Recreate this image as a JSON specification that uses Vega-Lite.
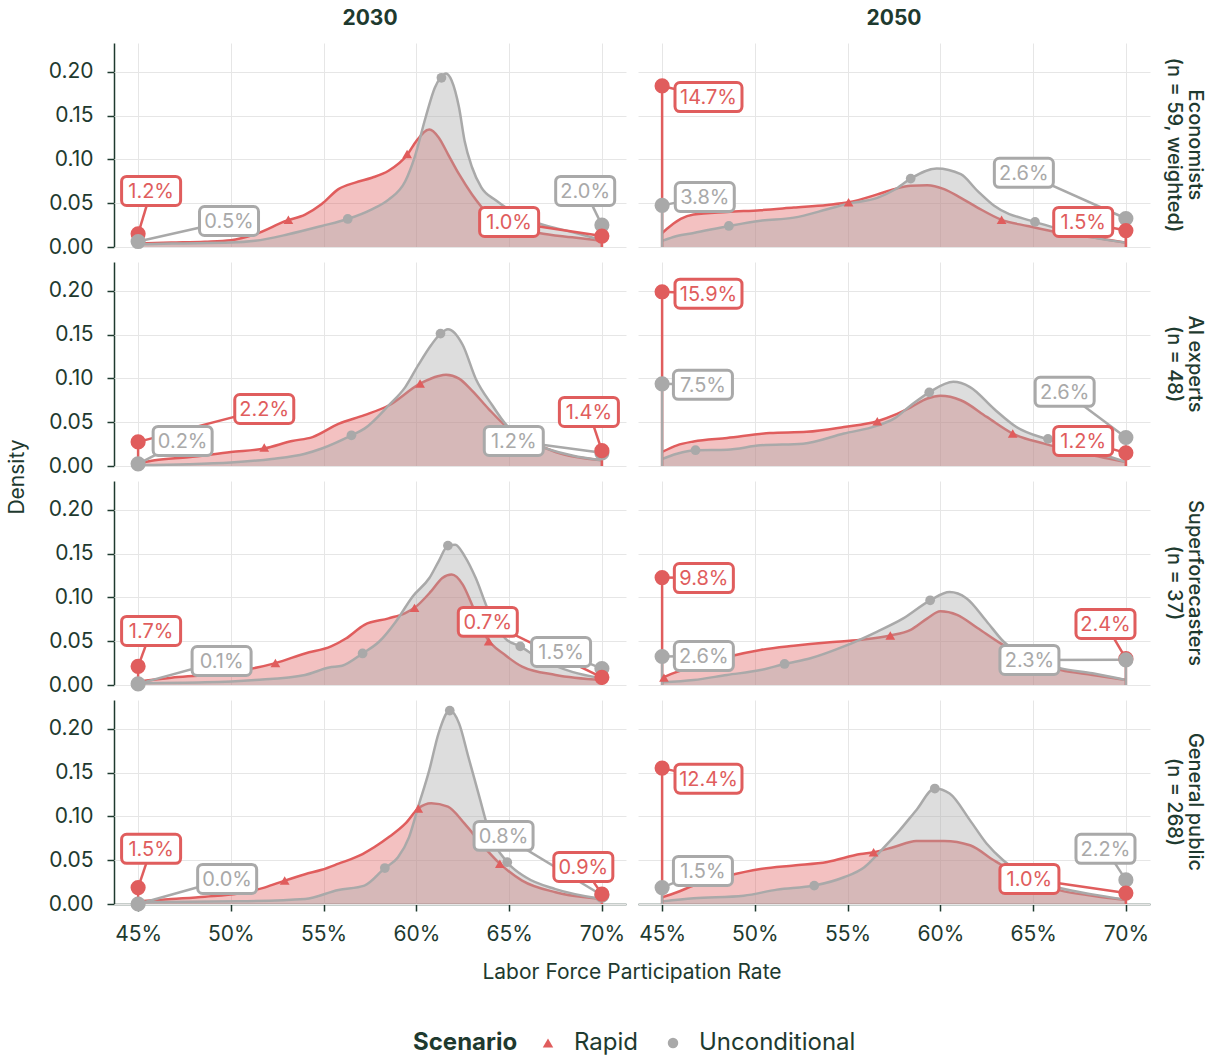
{
"$schema": "https://vega.github.io/schema/vega-lite/v6.json",
"padding": {"left": 6, "top": 8, "right": 5, "bottom": 5},
"bounds": "flush",
"data": {"values": [
{"grp":"Economists|(n = 59, weighted)","yr":"2030","s":"Rapid","k":"c","x":45,"d":0.004},
{"grp":"Economists|(n = 59, weighted)","yr":"2030","s":"Rapid","k":"c","x":46.8,"d":0.005},
{"grp":"Economists|(n = 59, weighted)","yr":"2030","s":"Rapid","k":"c","x":48.6,"d":0.006},
{"grp":"Economists|(n = 59, weighted)","yr":"2030","s":"Rapid","k":"c","x":50,"d":0.0076},
{"grp":"Economists|(n = 59, weighted)","yr":"2030","s":"Rapid","k":"c","x":51.3,"d":0.0145},
{"grp":"Economists|(n = 59, weighted)","yr":"2030","s":"Rapid","k":"c","x":53,"d":0.03},
{"grp":"Economists|(n = 59, weighted)","yr":"2030","s":"Rapid","k":"c","x":54,"d":0.037},
{"grp":"Economists|(n = 59, weighted)","yr":"2030","s":"Rapid","k":"c","x":54.9,"d":0.049},
{"grp":"Economists|(n = 59, weighted)","yr":"2030","s":"Rapid","k":"c","x":55.8,"d":0.066},
{"grp":"Economists|(n = 59, weighted)","yr":"2030","s":"Rapid","k":"c","x":56.7,"d":0.0735},
{"grp":"Economists|(n = 59, weighted)","yr":"2030","s":"Rapid","k":"c","x":57.6,"d":0.079},
{"grp":"Economists|(n = 59, weighted)","yr":"2030","s":"Rapid","k":"c","x":58.5,"d":0.087},
{"grp":"Economists|(n = 59, weighted)","yr":"2030","s":"Rapid","k":"c","x":59.5,"d":0.105},
{"grp":"Economists|(n = 59, weighted)","yr":"2030","s":"Rapid","k":"c","x":60,"d":0.121},
{"grp":"Economists|(n = 59, weighted)","yr":"2030","s":"Rapid","k":"c","x":60.7,"d":0.134},
{"grp":"Economists|(n = 59, weighted)","yr":"2030","s":"Rapid","k":"c","x":61.2,"d":0.125},
{"grp":"Economists|(n = 59, weighted)","yr":"2030","s":"Rapid","k":"c","x":61.7,"d":0.106},
{"grp":"Economists|(n = 59, weighted)","yr":"2030","s":"Rapid","k":"c","x":62.3,"d":0.083},
{"grp":"Economists|(n = 59, weighted)","yr":"2030","s":"Rapid","k":"c","x":63,"d":0.06},
{"grp":"Economists|(n = 59, weighted)","yr":"2030","s":"Rapid","k":"c","x":63.9,"d":0.037},
{"grp":"Economists|(n = 59, weighted)","yr":"2030","s":"Rapid","k":"c","x":64.8,"d":0.026},
{"grp":"Economists|(n = 59, weighted)","yr":"2030","s":"Rapid","k":"c","x":66.6,"d":0.016},
{"grp":"Economists|(n = 59, weighted)","yr":"2030","s":"Rapid","k":"c","x":68.4,"d":0.011},
{"grp":"Economists|(n = 59, weighted)","yr":"2030","s":"Rapid","k":"c","x":70,"d":0.007},
{"grp":"Economists|(n = 59, weighted)","yr":"2030","s":"Unconditional","k":"c","x":45,"d":0.003},
{"grp":"Economists|(n = 59, weighted)","yr":"2030","s":"Unconditional","k":"c","x":46.8,"d":0.004},
{"grp":"Economists|(n = 59, weighted)","yr":"2030","s":"Unconditional","k":"c","x":50,"d":0.005},
{"grp":"Economists|(n = 59, weighted)","yr":"2030","s":"Unconditional","k":"c","x":51.3,"d":0.007},
{"grp":"Economists|(n = 59, weighted)","yr":"2030","s":"Unconditional","k":"c","x":53.1,"d":0.0145},
{"grp":"Economists|(n = 59, weighted)","yr":"2030","s":"Unconditional","k":"c","x":54.9,"d":0.024},
{"grp":"Economists|(n = 59, weighted)","yr":"2030","s":"Unconditional","k":"c","x":56.3,"d":0.032},
{"grp":"Economists|(n = 59, weighted)","yr":"2030","s":"Unconditional","k":"c","x":57.6,"d":0.043},
{"grp":"Economists|(n = 59, weighted)","yr":"2030","s":"Unconditional","k":"c","x":58.5,"d":0.054},
{"grp":"Economists|(n = 59, weighted)","yr":"2030","s":"Unconditional","k":"c","x":59.4,"d":0.075},
{"grp":"Economists|(n = 59, weighted)","yr":"2030","s":"Unconditional","k":"c","x":59.9,"d":0.102},
{"grp":"Economists|(n = 59, weighted)","yr":"2030","s":"Unconditional","k":"c","x":60.5,"d":0.148},
{"grp":"Economists|(n = 59, weighted)","yr":"2030","s":"Unconditional","k":"c","x":61,"d":0.182},
{"grp":"Economists|(n = 59, weighted)","yr":"2030","s":"Unconditional","k":"c","x":61.3,"d":0.193},
{"grp":"Economists|(n = 59, weighted)","yr":"2030","s":"Unconditional","k":"c","x":61.6,"d":0.198},
{"grp":"Economists|(n = 59, weighted)","yr":"2030","s":"Unconditional","k":"c","x":61.9,"d":0.19},
{"grp":"Economists|(n = 59, weighted)","yr":"2030","s":"Unconditional","k":"c","x":62.3,"d":0.159},
{"grp":"Economists|(n = 59, weighted)","yr":"2030","s":"Unconditional","k":"c","x":62.6,"d":0.121},
{"grp":"Economists|(n = 59, weighted)","yr":"2030","s":"Unconditional","k":"c","x":63,"d":0.091},
{"grp":"Economists|(n = 59, weighted)","yr":"2030","s":"Unconditional","k":"c","x":63.5,"d":0.068},
{"grp":"Economists|(n = 59, weighted)","yr":"2030","s":"Unconditional","k":"c","x":64.3,"d":0.053},
{"grp":"Economists|(n = 59, weighted)","yr":"2030","s":"Unconditional","k":"c","x":65.2,"d":0.04},
{"grp":"Economists|(n = 59, weighted)","yr":"2030","s":"Unconditional","k":"c","x":66.6,"d":0.027},
{"grp":"Economists|(n = 59, weighted)","yr":"2030","s":"Unconditional","k":"c","x":68.4,"d":0.017},
{"grp":"Economists|(n = 59, weighted)","yr":"2030","s":"Unconditional","k":"c","x":70,"d":0.008},
{"grp":"Economists|(n = 59, weighted)","yr":"2030","s":"Rapid","k":"m","x":53.1,"d":0.031},
{"grp":"Economists|(n = 59, weighted)","yr":"2030","s":"Rapid","k":"m","x":59.5,"d":0.106},
{"grp":"Economists|(n = 59, weighted)","yr":"2030","s":"Unconditional","k":"m","x":56.3,"d":0.032},
{"grp":"Economists|(n = 59, weighted)","yr":"2030","s":"Unconditional","k":"m","x":61.35,"d":0.193},
{"grp":"Economists|(n = 59, weighted)","yr":"2030","s":"Rapid","k":"p","x":45,"d":0.015,"lx":45.7,"ly":0.064,"lab":"1.2%"},
{"grp":"Economists|(n = 59, weighted)","yr":"2030","s":"Unconditional","k":"p","x":45,"d":0.00625,"lx":49.9,"ly":0.0297,"lab":"0.5%"},
{"grp":"Economists|(n = 59, weighted)","yr":"2030","s":"Unconditional","k":"p","x":70,"d":0.025,"lx":69.1,"ly":0.064,"lab":"2.0%"},
{"grp":"Economists|(n = 59, weighted)","yr":"2030","s":"Rapid","k":"p","x":70,"d":0.0125,"lx":65,"ly":0.0286,"lab":"1.0%"},

{"grp":"Economists|(n = 59, weighted)","yr":"2050","s":"Rapid","k":"c","x":45,"d":0.016},
{"grp":"Economists|(n = 59, weighted)","yr":"2050","s":"Rapid","k":"c","x":45.45,"d":0.024},
{"grp":"Economists|(n = 59, weighted)","yr":"2050","s":"Rapid","k":"c","x":46,"d":0.032},
{"grp":"Economists|(n = 59, weighted)","yr":"2050","s":"Rapid","k":"c","x":46.7,"d":0.037},
{"grp":"Economists|(n = 59, weighted)","yr":"2050","s":"Rapid","k":"c","x":48.5,"d":0.04},
{"grp":"Economists|(n = 59, weighted)","yr":"2050","s":"Rapid","k":"c","x":50.3,"d":0.042},
{"grp":"Economists|(n = 59, weighted)","yr":"2050","s":"Rapid","k":"c","x":52.1,"d":0.045},
{"grp":"Economists|(n = 59, weighted)","yr":"2050","s":"Rapid","k":"c","x":53.9,"d":0.048},
{"grp":"Economists|(n = 59, weighted)","yr":"2050","s":"Rapid","k":"c","x":55.05,"d":0.051},
{"grp":"Economists|(n = 59, weighted)","yr":"2050","s":"Rapid","k":"c","x":56.6,"d":0.06},
{"grp":"Economists|(n = 59, weighted)","yr":"2050","s":"Rapid","k":"c","x":57.5,"d":0.066},
{"grp":"Economists|(n = 59, weighted)","yr":"2050","s":"Rapid","k":"c","x":58.4,"d":0.07},
{"grp":"Economists|(n = 59, weighted)","yr":"2050","s":"Rapid","k":"c","x":59.3,"d":0.0705},
{"grp":"Economists|(n = 59, weighted)","yr":"2050","s":"Rapid","k":"c","x":60.2,"d":0.066},
{"grp":"Economists|(n = 59, weighted)","yr":"2050","s":"Rapid","k":"c","x":61.1,"d":0.056},
{"grp":"Economists|(n = 59, weighted)","yr":"2050","s":"Rapid","k":"c","x":62,"d":0.045},
{"grp":"Economists|(n = 59, weighted)","yr":"2050","s":"Rapid","k":"c","x":63.3,"d":0.031},
{"grp":"Economists|(n = 59, weighted)","yr":"2050","s":"Rapid","k":"c","x":64.7,"d":0.024},
{"grp":"Economists|(n = 59, weighted)","yr":"2050","s":"Rapid","k":"c","x":66.5,"d":0.016},
{"grp":"Economists|(n = 59, weighted)","yr":"2050","s":"Rapid","k":"c","x":68.2,"d":0.011},
{"grp":"Economists|(n = 59, weighted)","yr":"2050","s":"Rapid","k":"c","x":70,"d":0.005},
{"grp":"Economists|(n = 59, weighted)","yr":"2050","s":"Unconditional","k":"c","x":45,"d":0.007},
{"grp":"Economists|(n = 59, weighted)","yr":"2050","s":"Unconditional","k":"c","x":45.8,"d":0.0126},
{"grp":"Economists|(n = 59, weighted)","yr":"2050","s":"Unconditional","k":"c","x":46.7,"d":0.016},
{"grp":"Economists|(n = 59, weighted)","yr":"2050","s":"Unconditional","k":"c","x":48.6,"d":0.024},
{"grp":"Economists|(n = 59, weighted)","yr":"2050","s":"Unconditional","k":"c","x":50.3,"d":0.03},
{"grp":"Economists|(n = 59, weighted)","yr":"2050","s":"Unconditional","k":"c","x":52.1,"d":0.0335},
{"grp":"Economists|(n = 59, weighted)","yr":"2050","s":"Unconditional","k":"c","x":53.9,"d":0.043},
{"grp":"Economists|(n = 59, weighted)","yr":"2050","s":"Unconditional","k":"c","x":55.05,"d":0.0495},
{"grp":"Economists|(n = 59, weighted)","yr":"2050","s":"Unconditional","k":"c","x":56.6,"d":0.056},
{"grp":"Economists|(n = 59, weighted)","yr":"2050","s":"Unconditional","k":"c","x":57.5,"d":0.065},
{"grp":"Economists|(n = 59, weighted)","yr":"2050","s":"Unconditional","k":"c","x":58.4,"d":0.078},
{"grp":"Economists|(n = 59, weighted)","yr":"2050","s":"Unconditional","k":"c","x":59.8,"d":0.0895},
{"grp":"Economists|(n = 59, weighted)","yr":"2050","s":"Unconditional","k":"c","x":61.1,"d":0.083},
{"grp":"Economists|(n = 59, weighted)","yr":"2050","s":"Unconditional","k":"c","x":62,"d":0.064},
{"grp":"Economists|(n = 59, weighted)","yr":"2050","s":"Unconditional","k":"c","x":62.9,"d":0.047},
{"grp":"Economists|(n = 59, weighted)","yr":"2050","s":"Unconditional","k":"c","x":65.1,"d":0.0286},
{"grp":"Economists|(n = 59, weighted)","yr":"2050","s":"Unconditional","k":"c","x":66.5,"d":0.02},
{"grp":"Economists|(n = 59, weighted)","yr":"2050","s":"Unconditional","k":"c","x":68.2,"d":0.011},
{"grp":"Economists|(n = 59, weighted)","yr":"2050","s":"Unconditional","k":"c","x":70,"d":0.005},
{"grp":"Economists|(n = 59, weighted)","yr":"2050","s":"Rapid","k":"m","x":55.05,"d":0.051},
{"grp":"Economists|(n = 59, weighted)","yr":"2050","s":"Rapid","k":"m","x":63.3,"d":0.031},
{"grp":"Economists|(n = 59, weighted)","yr":"2050","s":"Unconditional","k":"m","x":48.6,"d":0.024},
{"grp":"Economists|(n = 59, weighted)","yr":"2050","s":"Unconditional","k":"m","x":58.4,"d":0.078},
{"grp":"Economists|(n = 59, weighted)","yr":"2050","s":"Unconditional","k":"m","x":65.1,"d":0.0286},
{"grp":"Economists|(n = 59, weighted)","yr":"2050","s":"Rapid","k":"p","x":45,"d":0.18375,"lx":47.5,"ly":0.171,"lab":"14.7%"},
{"grp":"Economists|(n = 59, weighted)","yr":"2050","s":"Unconditional","k":"p","x":45,"d":0.0475,"lx":47.3,"ly":0.057,"lab":"3.8%"},
{"grp":"Economists|(n = 59, weighted)","yr":"2050","s":"Unconditional","k":"p","x":70,"d":0.0325,"lx":64.5,"ly":0.0846,"lab":"2.6%"},
{"grp":"Economists|(n = 59, weighted)","yr":"2050","s":"Rapid","k":"p","x":70,"d":0.01875,"lx":67.7,"ly":0.0286,"lab":"1.5%"},

{"grp":"AI experts|(n = 48)","yr":"2030","s":"Rapid","k":"c","x":45,"d":0.003},
{"grp":"AI experts|(n = 48)","yr":"2030","s":"Rapid","k":"c","x":45.9,"d":0.0065},
{"grp":"AI experts|(n = 48)","yr":"2030","s":"Rapid","k":"c","x":47.7,"d":0.01},
{"grp":"AI experts|(n = 48)","yr":"2030","s":"Rapid","k":"c","x":50,"d":0.016},
{"grp":"AI experts|(n = 48)","yr":"2030","s":"Rapid","k":"c","x":51.8,"d":0.02},
{"grp":"AI experts|(n = 48)","yr":"2030","s":"Rapid","k":"c","x":53.3,"d":0.0285},
{"grp":"AI experts|(n = 48)","yr":"2030","s":"Rapid","k":"c","x":54.4,"d":0.033},
{"grp":"AI experts|(n = 48)","yr":"2030","s":"Rapid","k":"c","x":55.8,"d":0.048},
{"grp":"AI experts|(n = 48)","yr":"2030","s":"Rapid","k":"c","x":57.2,"d":0.058},
{"grp":"AI experts|(n = 48)","yr":"2030","s":"Rapid","k":"c","x":58.5,"d":0.069},
{"grp":"AI experts|(n = 48)","yr":"2030","s":"Rapid","k":"c","x":60.2,"d":0.094},
{"grp":"AI experts|(n = 48)","yr":"2030","s":"Rapid","k":"c","x":61.2,"d":0.1027},
{"grp":"AI experts|(n = 48)","yr":"2030","s":"Rapid","k":"c","x":61.6,"d":0.104},
{"grp":"AI experts|(n = 48)","yr":"2030","s":"Rapid","k":"c","x":62.3,"d":0.0996},
{"grp":"AI experts|(n = 48)","yr":"2030","s":"Rapid","k":"c","x":63,"d":0.086},
{"grp":"AI experts|(n = 48)","yr":"2030","s":"Rapid","k":"c","x":63.9,"d":0.065},
{"grp":"AI experts|(n = 48)","yr":"2030","s":"Rapid","k":"c","x":64.8,"d":0.046},
{"grp":"AI experts|(n = 48)","yr":"2030","s":"Rapid","k":"c","x":65.9,"d":0.031},
{"grp":"AI experts|(n = 48)","yr":"2030","s":"Rapid","k":"c","x":67.5,"d":0.016},
{"grp":"AI experts|(n = 48)","yr":"2030","s":"Rapid","k":"c","x":70,"d":0.0065},
{"grp":"AI experts|(n = 48)","yr":"2030","s":"Unconditional","k":"c","x":45,"d":0.001},
{"grp":"AI experts|(n = 48)","yr":"2030","s":"Unconditional","k":"c","x":47.7,"d":0.002},
{"grp":"AI experts|(n = 48)","yr":"2030","s":"Unconditional","k":"c","x":50,"d":0.004},
{"grp":"AI experts|(n = 48)","yr":"2030","s":"Unconditional","k":"c","x":52.2,"d":0.008},
{"grp":"AI experts|(n = 48)","yr":"2030","s":"Unconditional","k":"c","x":54,"d":0.014},
{"grp":"AI experts|(n = 48)","yr":"2030","s":"Unconditional","k":"c","x":54.9,"d":0.02},
{"grp":"AI experts|(n = 48)","yr":"2030","s":"Unconditional","k":"c","x":56.5,"d":0.035},
{"grp":"AI experts|(n = 48)","yr":"2030","s":"Unconditional","k":"c","x":57.2,"d":0.0426},
{"grp":"AI experts|(n = 48)","yr":"2030","s":"Unconditional","k":"c","x":58.5,"d":0.069},
{"grp":"AI experts|(n = 48)","yr":"2030","s":"Unconditional","k":"c","x":59.4,"d":0.09},
{"grp":"AI experts|(n = 48)","yr":"2030","s":"Unconditional","k":"c","x":60.1,"d":0.115},
{"grp":"AI experts|(n = 48)","yr":"2030","s":"Unconditional","k":"c","x":60.8,"d":0.138},
{"grp":"AI experts|(n = 48)","yr":"2030","s":"Unconditional","k":"c","x":61.3,"d":0.151},
{"grp":"AI experts|(n = 48)","yr":"2030","s":"Unconditional","k":"c","x":61.7,"d":0.156},
{"grp":"AI experts|(n = 48)","yr":"2030","s":"Unconditional","k":"c","x":62.5,"d":0.138},
{"grp":"AI experts|(n = 48)","yr":"2030","s":"Unconditional","k":"c","x":63.2,"d":0.0996},
{"grp":"AI experts|(n = 48)","yr":"2030","s":"Unconditional","k":"c","x":64.1,"d":0.069},
{"grp":"AI experts|(n = 48)","yr":"2030","s":"Unconditional","k":"c","x":64.8,"d":0.048},
{"grp":"AI experts|(n = 48)","yr":"2030","s":"Unconditional","k":"c","x":66.6,"d":0.0236},
{"grp":"AI experts|(n = 48)","yr":"2030","s":"Unconditional","k":"c","x":68.4,"d":0.012},
{"grp":"AI experts|(n = 48)","yr":"2030","s":"Unconditional","k":"c","x":70,"d":0.0065},
{"grp":"AI experts|(n = 48)","yr":"2030","s":"Rapid","k":"m","x":51.8,"d":0.021},
{"grp":"AI experts|(n = 48)","yr":"2030","s":"Rapid","k":"m","x":60.2,"d":0.094},
{"grp":"AI experts|(n = 48)","yr":"2030","s":"Unconditional","k":"m","x":56.5,"d":0.035},
{"grp":"AI experts|(n = 48)","yr":"2030","s":"Unconditional","k":"m","x":61.3,"d":0.151},
{"grp":"AI experts|(n = 48)","yr":"2030","s":"Rapid","k":"p","x":45,"d":0.0275,"lx":51.8,"ly":0.065,"lab":"2.2%"},
{"grp":"AI experts|(n = 48)","yr":"2030","s":"Unconditional","k":"p","x":45,"d":0.0025,"lx":47.4,"ly":0.0286,"lab":"0.2%"},
{"grp":"AI experts|(n = 48)","yr":"2030","s":"Unconditional","k":"p","x":70,"d":0.015,"lx":65.25,"ly":0.0286,"lab":"1.2%"},
{"grp":"AI experts|(n = 48)","yr":"2030","s":"Rapid","k":"p","x":70,"d":0.0175,"lx":69.3,"ly":0.0617,"lab":"1.4%"},

{"grp":"AI experts|(n = 48)","yr":"2050","s":"Rapid","k":"c","x":45,"d":0.016},
{"grp":"AI experts|(n = 48)","yr":"2050","s":"Rapid","k":"c","x":45.8,"d":0.0236},
{"grp":"AI experts|(n = 48)","yr":"2050","s":"Rapid","k":"c","x":46.7,"d":0.028},
{"grp":"AI experts|(n = 48)","yr":"2050","s":"Rapid","k":"c","x":48.5,"d":0.032},
{"grp":"AI experts|(n = 48)","yr":"2050","s":"Rapid","k":"c","x":50.8,"d":0.0376},
{"grp":"AI experts|(n = 48)","yr":"2050","s":"Rapid","k":"c","x":52.8,"d":0.039},
{"grp":"AI experts|(n = 48)","yr":"2050","s":"Rapid","k":"c","x":54.8,"d":0.0445},
{"grp":"AI experts|(n = 48)","yr":"2050","s":"Rapid","k":"c","x":56.6,"d":0.051},
{"grp":"AI experts|(n = 48)","yr":"2050","s":"Rapid","k":"c","x":57.5,"d":0.058},
{"grp":"AI experts|(n = 48)","yr":"2050","s":"Rapid","k":"c","x":58.4,"d":0.067},
{"grp":"AI experts|(n = 48)","yr":"2050","s":"Rapid","k":"c","x":59.3,"d":0.077},
{"grp":"AI experts|(n = 48)","yr":"2050","s":"Rapid","k":"c","x":60,"d":0.08},
{"grp":"AI experts|(n = 48)","yr":"2050","s":"Rapid","k":"c","x":61.1,"d":0.075},
{"grp":"AI experts|(n = 48)","yr":"2050","s":"Rapid","k":"c","x":62.5,"d":0.056},
{"grp":"AI experts|(n = 48)","yr":"2050","s":"Rapid","k":"c","x":63.9,"d":0.037},
{"grp":"AI experts|(n = 48)","yr":"2050","s":"Rapid","k":"c","x":65.6,"d":0.0255},
{"grp":"AI experts|(n = 48)","yr":"2050","s":"Rapid","k":"c","x":67.4,"d":0.016},
{"grp":"AI experts|(n = 48)","yr":"2050","s":"Rapid","k":"c","x":70,"d":0.0046},
{"grp":"AI experts|(n = 48)","yr":"2050","s":"Unconditional","k":"c","x":45,"d":0.008},
{"grp":"AI experts|(n = 48)","yr":"2050","s":"Unconditional","k":"c","x":45.8,"d":0.014},
{"grp":"AI experts|(n = 48)","yr":"2050","s":"Unconditional","k":"c","x":46.8,"d":0.018},
{"grp":"AI experts|(n = 48)","yr":"2050","s":"Unconditional","k":"c","x":48.5,"d":0.0186},
{"grp":"AI experts|(n = 48)","yr":"2050","s":"Unconditional","k":"c","x":50.3,"d":0.0236},
{"grp":"AI experts|(n = 48)","yr":"2050","s":"Unconditional","k":"c","x":52.6,"d":0.0255},
{"grp":"AI experts|(n = 48)","yr":"2050","s":"Unconditional","k":"c","x":54.8,"d":0.037},
{"grp":"AI experts|(n = 48)","yr":"2050","s":"Unconditional","k":"c","x":56.6,"d":0.046},
{"grp":"AI experts|(n = 48)","yr":"2050","s":"Unconditional","k":"c","x":57.5,"d":0.054},
{"grp":"AI experts|(n = 48)","yr":"2050","s":"Unconditional","k":"c","x":58.4,"d":0.069},
{"grp":"AI experts|(n = 48)","yr":"2050","s":"Unconditional","k":"c","x":59.4,"d":0.084},
{"grp":"AI experts|(n = 48)","yr":"2050","s":"Unconditional","k":"c","x":60.7,"d":0.096},
{"grp":"AI experts|(n = 48)","yr":"2050","s":"Unconditional","k":"c","x":61.6,"d":0.09},
{"grp":"AI experts|(n = 48)","yr":"2050","s":"Unconditional","k":"c","x":62.9,"d":0.065},
{"grp":"AI experts|(n = 48)","yr":"2050","s":"Unconditional","k":"c","x":64.1,"d":0.0445},
{"grp":"AI experts|(n = 48)","yr":"2050","s":"Unconditional","k":"c","x":65.7,"d":0.031},
{"grp":"AI experts|(n = 48)","yr":"2050","s":"Unconditional","k":"c","x":67.4,"d":0.0217},
{"grp":"AI experts|(n = 48)","yr":"2050","s":"Unconditional","k":"c","x":70,"d":0.0046},
{"grp":"AI experts|(n = 48)","yr":"2050","s":"Rapid","k":"m","x":56.6,"d":0.051},
{"grp":"AI experts|(n = 48)","yr":"2050","s":"Rapid","k":"m","x":63.9,"d":0.037},
{"grp":"AI experts|(n = 48)","yr":"2050","s":"Unconditional","k":"m","x":46.8,"d":0.018},
{"grp":"AI experts|(n = 48)","yr":"2050","s":"Unconditional","k":"m","x":59.4,"d":0.084},
{"grp":"AI experts|(n = 48)","yr":"2050","s":"Unconditional","k":"m","x":65.8,"d":0.031},
{"grp":"AI experts|(n = 48)","yr":"2050","s":"Rapid","k":"p","x":45,"d":0.19875,"lx":47.5,"ly":0.1966,"lab":"15.9%"},
{"grp":"AI experts|(n = 48)","yr":"2050","s":"Unconditional","k":"p","x":45,"d":0.09375,"lx":47.2,"ly":0.0926,"lab":"7.5%"},
{"grp":"AI experts|(n = 48)","yr":"2050","s":"Unconditional","k":"p","x":70,"d":0.0325,"lx":66.7,"ly":0.0846,"lab":"2.6%"},
{"grp":"AI experts|(n = 48)","yr":"2050","s":"Rapid","k":"p","x":70,"d":0.015,"lx":67.7,"ly":0.0286,"lab":"1.2%"},

{"grp":"Superforecasters|(n = 37)","yr":"2030","s":"Rapid","k":"c","x":45,"d":0.004},
{"grp":"Superforecasters|(n = 37)","yr":"2030","s":"Rapid","k":"c","x":46.8,"d":0.0084},
{"grp":"Superforecasters|(n = 37)","yr":"2030","s":"Rapid","k":"c","x":48.6,"d":0.0115},
{"grp":"Superforecasters|(n = 37)","yr":"2030","s":"Rapid","k":"c","x":50.4,"d":0.016},
{"grp":"Superforecasters|(n = 37)","yr":"2030","s":"Rapid","k":"c","x":52.4,"d":0.025},
{"grp":"Superforecasters|(n = 37)","yr":"2030","s":"Rapid","k":"c","x":54,"d":0.036},
{"grp":"Superforecasters|(n = 37)","yr":"2030","s":"Rapid","k":"c","x":55.4,"d":0.044},
{"grp":"Superforecasters|(n = 37)","yr":"2030","s":"Rapid","k":"c","x":56.2,"d":0.053},
{"grp":"Superforecasters|(n = 37)","yr":"2030","s":"Rapid","k":"c","x":57.2,"d":0.0687},
{"grp":"Superforecasters|(n = 37)","yr":"2030","s":"Rapid","k":"c","x":58.5,"d":0.076},
{"grp":"Superforecasters|(n = 37)","yr":"2030","s":"Rapid","k":"c","x":59.4,"d":0.082},
{"grp":"Superforecasters|(n = 37)","yr":"2030","s":"Rapid","k":"c","x":59.9,"d":0.088},
{"grp":"Superforecasters|(n = 37)","yr":"2030","s":"Rapid","k":"c","x":60.8,"d":0.107},
{"grp":"Superforecasters|(n = 37)","yr":"2030","s":"Rapid","k":"c","x":61.4,"d":0.122},
{"grp":"Superforecasters|(n = 37)","yr":"2030","s":"Rapid","k":"c","x":61.9,"d":0.126},
{"grp":"Superforecasters|(n = 37)","yr":"2030","s":"Rapid","k":"c","x":62.5,"d":0.1145},
{"grp":"Superforecasters|(n = 37)","yr":"2030","s":"Rapid","k":"c","x":63,"d":0.0916},
{"grp":"Superforecasters|(n = 37)","yr":"2030","s":"Rapid","k":"c","x":63.7,"d":0.057},
{"grp":"Superforecasters|(n = 37)","yr":"2030","s":"Rapid","k":"c","x":64.8,"d":0.034},
{"grp":"Superforecasters|(n = 37)","yr":"2030","s":"Rapid","k":"c","x":65.7,"d":0.021},
{"grp":"Superforecasters|(n = 37)","yr":"2030","s":"Rapid","k":"c","x":67.5,"d":0.0115},
{"grp":"Superforecasters|(n = 37)","yr":"2030","s":"Rapid","k":"c","x":70,"d":0.0057},
{"grp":"Superforecasters|(n = 37)","yr":"2030","s":"Unconditional","k":"c","x":45,"d":0.002},
{"grp":"Superforecasters|(n = 37)","yr":"2030","s":"Unconditional","k":"c","x":48.6,"d":0.003},
{"grp":"Superforecasters|(n = 37)","yr":"2030","s":"Unconditional","k":"c","x":51.3,"d":0.0057},
{"grp":"Superforecasters|(n = 37)","yr":"2030","s":"Unconditional","k":"c","x":54,"d":0.0115},
{"grp":"Superforecasters|(n = 37)","yr":"2030","s":"Unconditional","k":"c","x":55.3,"d":0.02},
{"grp":"Superforecasters|(n = 37)","yr":"2030","s":"Unconditional","k":"c","x":56,"d":0.022},
{"grp":"Superforecasters|(n = 37)","yr":"2030","s":"Unconditional","k":"c","x":57.1,"d":0.036},
{"grp":"Superforecasters|(n = 37)","yr":"2030","s":"Unconditional","k":"c","x":58,"d":0.0496},
{"grp":"Superforecasters|(n = 37)","yr":"2030","s":"Unconditional","k":"c","x":58.9,"d":0.0725},
{"grp":"Superforecasters|(n = 37)","yr":"2030","s":"Unconditional","k":"c","x":59.8,"d":0.101},
{"grp":"Superforecasters|(n = 37)","yr":"2030","s":"Unconditional","k":"c","x":60.7,"d":0.122},
{"grp":"Superforecasters|(n = 37)","yr":"2030","s":"Unconditional","k":"c","x":61.2,"d":0.141},
{"grp":"Superforecasters|(n = 37)","yr":"2030","s":"Unconditional","k":"c","x":61.7,"d":0.159},
{"grp":"Superforecasters|(n = 37)","yr":"2030","s":"Unconditional","k":"c","x":62.1,"d":0.16},
{"grp":"Superforecasters|(n = 37)","yr":"2030","s":"Unconditional","k":"c","x":62.6,"d":0.147},
{"grp":"Superforecasters|(n = 37)","yr":"2030","s":"Unconditional","k":"c","x":63.2,"d":0.122},
{"grp":"Superforecasters|(n = 37)","yr":"2030","s":"Unconditional","k":"c","x":63.9,"d":0.084},
{"grp":"Superforecasters|(n = 37)","yr":"2030","s":"Unconditional","k":"c","x":64.8,"d":0.053},
{"grp":"Superforecasters|(n = 37)","yr":"2030","s":"Unconditional","k":"c","x":65.6,"d":0.044},
{"grp":"Superforecasters|(n = 37)","yr":"2030","s":"Unconditional","k":"c","x":66.6,"d":0.0305},
{"grp":"Superforecasters|(n = 37)","yr":"2030","s":"Unconditional","k":"c","x":68.4,"d":0.015},
{"grp":"Superforecasters|(n = 37)","yr":"2030","s":"Unconditional","k":"c","x":70,"d":0.0076},
{"grp":"Superforecasters|(n = 37)","yr":"2030","s":"Rapid","k":"m","x":52.4,"d":0.025},
{"grp":"Superforecasters|(n = 37)","yr":"2030","s":"Rapid","k":"m","x":59.9,"d":0.088},
{"grp":"Superforecasters|(n = 37)","yr":"2030","s":"Rapid","k":"m","x":63.9,"d":0.05},
{"grp":"Superforecasters|(n = 37)","yr":"2030","s":"Unconditional","k":"m","x":57.1,"d":0.036},
{"grp":"Superforecasters|(n = 37)","yr":"2030","s":"Unconditional","k":"m","x":61.7,"d":0.159},
{"grp":"Superforecasters|(n = 37)","yr":"2030","s":"Unconditional","k":"m","x":65.6,"d":0.044},
{"grp":"Superforecasters|(n = 37)","yr":"2030","s":"Rapid","k":"p","x":45,"d":0.02125,"lx":45.7,"ly":0.0617,"lab":"1.7%"},
{"grp":"Superforecasters|(n = 37)","yr":"2030","s":"Unconditional","k":"p","x":45,"d":0.00125,"lx":49.5,"ly":0.0274,"lab":"0.1%"},
{"grp":"Superforecasters|(n = 37)","yr":"2030","s":"Unconditional","k":"p","x":70,"d":0.01875,"lx":67.8,"ly":0.0377,"lab":"1.5%"},
{"grp":"Superforecasters|(n = 37)","yr":"2030","s":"Rapid","k":"p","x":70,"d":0.00875,"lx":63.85,"ly":0.072,"lab":"0.7%"},

{"grp":"Superforecasters|(n = 37)","yr":"2050","s":"Rapid","k":"c","x":45,"d":0.0084},
{"grp":"Superforecasters|(n = 37)","yr":"2050","s":"Rapid","k":"c","x":45.8,"d":0.015},
{"grp":"Superforecasters|(n = 37)","yr":"2050","s":"Rapid","k":"c","x":46.7,"d":0.021},
{"grp":"Superforecasters|(n = 37)","yr":"2050","s":"Rapid","k":"c","x":48.5,"d":0.032},
{"grp":"Superforecasters|(n = 37)","yr":"2050","s":"Rapid","k":"c","x":50.3,"d":0.04},
{"grp":"Superforecasters|(n = 37)","yr":"2050","s":"Rapid","k":"c","x":52.1,"d":0.0447},
{"grp":"Superforecasters|(n = 37)","yr":"2050","s":"Rapid","k":"c","x":53.9,"d":0.0485},
{"grp":"Superforecasters|(n = 37)","yr":"2050","s":"Rapid","k":"c","x":55.7,"d":0.0515},
{"grp":"Superforecasters|(n = 37)","yr":"2050","s":"Rapid","k":"c","x":57.3,"d":0.0565},
{"grp":"Superforecasters|(n = 37)","yr":"2050","s":"Rapid","k":"c","x":58.4,"d":0.063},
{"grp":"Superforecasters|(n = 37)","yr":"2050","s":"Rapid","k":"c","x":59.3,"d":0.076},
{"grp":"Superforecasters|(n = 37)","yr":"2050","s":"Rapid","k":"c","x":60,"d":0.084},
{"grp":"Superforecasters|(n = 37)","yr":"2050","s":"Rapid","k":"c","x":60.9,"d":0.08},
{"grp":"Superforecasters|(n = 37)","yr":"2050","s":"Rapid","k":"c","x":62,"d":0.065},
{"grp":"Superforecasters|(n = 37)","yr":"2050","s":"Rapid","k":"c","x":63.2,"d":0.048},
{"grp":"Superforecasters|(n = 37)","yr":"2050","s":"Rapid","k":"c","x":64.7,"d":0.0305},
{"grp":"Superforecasters|(n = 37)","yr":"2050","s":"Rapid","k":"c","x":66.5,"d":0.017},
{"grp":"Superforecasters|(n = 37)","yr":"2050","s":"Rapid","k":"c","x":68.2,"d":0.0115},
{"grp":"Superforecasters|(n = 37)","yr":"2050","s":"Rapid","k":"c","x":70,"d":0.0057},
{"grp":"Superforecasters|(n = 37)","yr":"2050","s":"Unconditional","k":"c","x":45,"d":0.003},
{"grp":"Superforecasters|(n = 37)","yr":"2050","s":"Unconditional","k":"c","x":46.7,"d":0.0057},
{"grp":"Superforecasters|(n = 37)","yr":"2050","s":"Unconditional","k":"c","x":48.5,"d":0.0115},
{"grp":"Superforecasters|(n = 37)","yr":"2050","s":"Unconditional","k":"c","x":50.3,"d":0.017},
{"grp":"Superforecasters|(n = 37)","yr":"2050","s":"Unconditional","k":"c","x":51.6,"d":0.024},
{"grp":"Superforecasters|(n = 37)","yr":"2050","s":"Unconditional","k":"c","x":53,"d":0.0305},
{"grp":"Superforecasters|(n = 37)","yr":"2050","s":"Unconditional","k":"c","x":54.8,"d":0.044},
{"grp":"Superforecasters|(n = 37)","yr":"2050","s":"Unconditional","k":"c","x":56.6,"d":0.061},
{"grp":"Superforecasters|(n = 37)","yr":"2050","s":"Unconditional","k":"c","x":58,"d":0.076},
{"grp":"Superforecasters|(n = 37)","yr":"2050","s":"Unconditional","k":"c","x":59.45,"d":0.0966},
{"grp":"Superforecasters|(n = 37)","yr":"2050","s":"Unconditional","k":"c","x":60.5,"d":0.106},
{"grp":"Superforecasters|(n = 37)","yr":"2050","s":"Unconditional","k":"c","x":61.4,"d":0.099},
{"grp":"Superforecasters|(n = 37)","yr":"2050","s":"Unconditional","k":"c","x":62.5,"d":0.0725},
{"grp":"Superforecasters|(n = 37)","yr":"2050","s":"Unconditional","k":"c","x":63.4,"d":0.0496},
{"grp":"Superforecasters|(n = 37)","yr":"2050","s":"Unconditional","k":"c","x":64.7,"d":0.032},
{"grp":"Superforecasters|(n = 37)","yr":"2050","s":"Unconditional","k":"c","x":66.5,"d":0.019},
{"grp":"Superforecasters|(n = 37)","yr":"2050","s":"Unconditional","k":"c","x":68.2,"d":0.0134},
{"grp":"Superforecasters|(n = 37)","yr":"2050","s":"Unconditional","k":"c","x":70,"d":0.0057},
{"grp":"Superforecasters|(n = 37)","yr":"2050","s":"Rapid","k":"m","x":45.1,"d":0.0084},
{"grp":"Superforecasters|(n = 37)","yr":"2050","s":"Rapid","k":"m","x":57.3,"d":0.0565},
{"grp":"Superforecasters|(n = 37)","yr":"2050","s":"Unconditional","k":"m","x":51.6,"d":0.024},
{"grp":"Superforecasters|(n = 37)","yr":"2050","s":"Unconditional","k":"m","x":59.45,"d":0.0966},
{"grp":"Superforecasters|(n = 37)","yr":"2050","s":"Rapid","k":"p","x":45,"d":0.1225,"lx":47.25,"ly":0.122,"lab":"9.8%"},
{"grp":"Superforecasters|(n = 37)","yr":"2050","s":"Unconditional","k":"p","x":45,"d":0.0325,"lx":47.25,"ly":0.033,"lab":"2.6%"},
{"grp":"Superforecasters|(n = 37)","yr":"2050","s":"Rapid","k":"p","x":70,"d":0.03,"lx":68.9,"ly":0.0697,"lab":"2.4%"},
{"grp":"Superforecasters|(n = 37)","yr":"2050","s":"Unconditional","k":"p","x":70,"d":0.02875,"lx":64.8,"ly":0.0286,"lab":"2.3%"},

{"grp":"General public|(n = 268)","yr":"2030","s":"Rapid","k":"c","x":45,"d":0.003},
{"grp":"General public|(n = 268)","yr":"2030","s":"Rapid","k":"c","x":46.8,"d":0.0057},
{"grp":"General public|(n = 268)","yr":"2030","s":"Rapid","k":"c","x":48.6,"d":0.0084},
{"grp":"General public|(n = 268)","yr":"2030","s":"Rapid","k":"c","x":50.4,"d":0.012},
{"grp":"General public|(n = 268)","yr":"2030","s":"Rapid","k":"c","x":51.85,"d":0.019},
{"grp":"General public|(n = 268)","yr":"2030","s":"Rapid","k":"c","x":52.9,"d":0.0267},
{"grp":"General public|(n = 268)","yr":"2030","s":"Rapid","k":"c","x":54,"d":0.034},
{"grp":"General public|(n = 268)","yr":"2030","s":"Rapid","k":"c","x":54.9,"d":0.039},
{"grp":"General public|(n = 268)","yr":"2030","s":"Rapid","k":"c","x":55.8,"d":0.046},
{"grp":"General public|(n = 268)","yr":"2030","s":"Rapid","k":"c","x":57.1,"d":0.057},
{"grp":"General public|(n = 268)","yr":"2030","s":"Rapid","k":"c","x":58.5,"d":0.076},
{"grp":"General public|(n = 268)","yr":"2030","s":"Rapid","k":"c","x":59.4,"d":0.0916},
{"grp":"General public|(n = 268)","yr":"2030","s":"Rapid","k":"c","x":60.1,"d":0.109},
{"grp":"General public|(n = 268)","yr":"2030","s":"Rapid","k":"c","x":60.8,"d":0.115},
{"grp":"General public|(n = 268)","yr":"2030","s":"Rapid","k":"c","x":61.7,"d":0.111},
{"grp":"General public|(n = 268)","yr":"2030","s":"Rapid","k":"c","x":62.6,"d":0.0916},
{"grp":"General public|(n = 268)","yr":"2030","s":"Rapid","k":"c","x":63.5,"d":0.0687},
{"grp":"General public|(n = 268)","yr":"2030","s":"Rapid","k":"c","x":64.5,"d":0.046},
{"grp":"General public|(n = 268)","yr":"2030","s":"Rapid","k":"c","x":65.7,"d":0.0267},
{"grp":"General public|(n = 268)","yr":"2030","s":"Rapid","k":"c","x":67.5,"d":0.0134},
{"grp":"General public|(n = 268)","yr":"2030","s":"Rapid","k":"c","x":70,"d":0.0057},
{"grp":"General public|(n = 268)","yr":"2030","s":"Unconditional","k":"c","x":45,"d":0.002},
{"grp":"General public|(n = 268)","yr":"2030","s":"Unconditional","k":"c","x":50.4,"d":0.003},
{"grp":"General public|(n = 268)","yr":"2030","s":"Unconditional","k":"c","x":54,"d":0.0057},
{"grp":"General public|(n = 268)","yr":"2030","s":"Unconditional","k":"c","x":55.8,"d":0.016},
{"grp":"General public|(n = 268)","yr":"2030","s":"Unconditional","k":"c","x":57.2,"d":0.021},
{"grp":"General public|(n = 268)","yr":"2030","s":"Unconditional","k":"c","x":58.3,"d":0.041},
{"grp":"General public|(n = 268)","yr":"2030","s":"Unconditional","k":"c","x":59,"d":0.053},
{"grp":"General public|(n = 268)","yr":"2030","s":"Unconditional","k":"c","x":59.6,"d":0.076},
{"grp":"General public|(n = 268)","yr":"2030","s":"Unconditional","k":"c","x":60.1,"d":0.111},
{"grp":"General public|(n = 268)","yr":"2030","s":"Unconditional","k":"c","x":60.7,"d":0.153},
{"grp":"General public|(n = 268)","yr":"2030","s":"Unconditional","k":"c","x":61.2,"d":0.195},
{"grp":"General public|(n = 268)","yr":"2030","s":"Unconditional","k":"c","x":61.8,"d":0.2206},
{"grp":"General public|(n = 268)","yr":"2030","s":"Unconditional","k":"c","x":62.3,"d":0.206},
{"grp":"General public|(n = 268)","yr":"2030","s":"Unconditional","k":"c","x":62.8,"d":0.168},
{"grp":"General public|(n = 268)","yr":"2030","s":"Unconditional","k":"c","x":63.4,"d":0.122},
{"grp":"General public|(n = 268)","yr":"2030","s":"Unconditional","k":"c","x":63.9,"d":0.084},
{"grp":"General public|(n = 268)","yr":"2030","s":"Unconditional","k":"c","x":64.9,"d":0.0477},
{"grp":"General public|(n = 268)","yr":"2030","s":"Unconditional","k":"c","x":65.9,"d":0.0305},
{"grp":"General public|(n = 268)","yr":"2030","s":"Unconditional","k":"c","x":67.5,"d":0.017},
{"grp":"General public|(n = 268)","yr":"2030","s":"Unconditional","k":"c","x":70,"d":0.0057},
{"grp":"General public|(n = 268)","yr":"2030","s":"Rapid","k":"m","x":52.9,"d":0.0267},
{"grp":"General public|(n = 268)","yr":"2030","s":"Rapid","k":"m","x":60.1,"d":0.109},
{"grp":"General public|(n = 268)","yr":"2030","s":"Rapid","k":"m","x":64.5,"d":0.046},
{"grp":"General public|(n = 268)","yr":"2030","s":"Unconditional","k":"m","x":58.3,"d":0.041},
{"grp":"General public|(n = 268)","yr":"2030","s":"Unconditional","k":"m","x":61.8,"d":0.2206},
{"grp":"General public|(n = 268)","yr":"2030","s":"Unconditional","k":"m","x":64.9,"d":0.0477},
{"grp":"General public|(n = 268)","yr":"2030","s":"Rapid","k":"p","x":45,"d":0.01875,"lx":45.7,"ly":0.0629,"lab":"1.5%"},
{"grp":"General public|(n = 268)","yr":"2030","s":"Unconditional","k":"p","x":45,"d":0,"lx":49.8,"ly":0.0286,"lab":"0.0%"},
{"grp":"General public|(n = 268)","yr":"2030","s":"Unconditional","k":"p","x":70,"d":0.01,"lx":64.7,"ly":0.0777,"lab":"0.8%"},
{"grp":"General public|(n = 268)","yr":"2030","s":"Rapid","k":"p","x":70,"d":0.01125,"lx":69,"ly":0.0423,"lab":"0.9%"},

{"grp":"General public|(n = 268)","yr":"2050","s":"Rapid","k":"c","x":45,"d":0.0076},
{"grp":"General public|(n = 268)","yr":"2050","s":"Rapid","k":"c","x":45.8,"d":0.0134},
{"grp":"General public|(n = 268)","yr":"2050","s":"Rapid","k":"c","x":46.7,"d":0.021},
{"grp":"General public|(n = 268)","yr":"2050","s":"Rapid","k":"c","x":48.5,"d":0.032},
{"grp":"General public|(n = 268)","yr":"2050","s":"Rapid","k":"c","x":50.3,"d":0.04},
{"grp":"General public|(n = 268)","yr":"2050","s":"Rapid","k":"c","x":52.1,"d":0.044},
{"grp":"General public|(n = 268)","yr":"2050","s":"Rapid","k":"c","x":53.9,"d":0.048},
{"grp":"General public|(n = 268)","yr":"2050","s":"Rapid","k":"c","x":55.7,"d":0.057},
{"grp":"General public|(n = 268)","yr":"2050","s":"Rapid","k":"c","x":56.4,"d":0.059},
{"grp":"General public|(n = 268)","yr":"2050","s":"Rapid","k":"c","x":57.5,"d":0.065},
{"grp":"General public|(n = 268)","yr":"2050","s":"Rapid","k":"c","x":58.7,"d":0.072},
{"grp":"General public|(n = 268)","yr":"2050","s":"Rapid","k":"c","x":60.2,"d":0.072},
{"grp":"General public|(n = 268)","yr":"2050","s":"Rapid","k":"c","x":61.6,"d":0.067},
{"grp":"General public|(n = 268)","yr":"2050","s":"Rapid","k":"c","x":62.9,"d":0.0496},
{"grp":"General public|(n = 268)","yr":"2050","s":"Rapid","k":"c","x":64.7,"d":0.0286},
{"grp":"General public|(n = 268)","yr":"2050","s":"Rapid","k":"c","x":66.5,"d":0.0153},
{"grp":"General public|(n = 268)","yr":"2050","s":"Rapid","k":"c","x":68.2,"d":0.0095},
{"grp":"General public|(n = 268)","yr":"2050","s":"Rapid","k":"c","x":70,"d":0.0046},
{"grp":"General public|(n = 268)","yr":"2050","s":"Unconditional","k":"c","x":45,"d":0.003},
{"grp":"General public|(n = 268)","yr":"2050","s":"Unconditional","k":"c","x":46.7,"d":0.0065},
{"grp":"General public|(n = 268)","yr":"2050","s":"Unconditional","k":"c","x":49.4,"d":0.0095},
{"grp":"General public|(n = 268)","yr":"2050","s":"Unconditional","k":"c","x":51.2,"d":0.0164},
{"grp":"General public|(n = 268)","yr":"2050","s":"Unconditional","k":"c","x":53.2,"d":0.021},
{"grp":"General public|(n = 268)","yr":"2050","s":"Unconditional","k":"c","x":54.8,"d":0.0305},
{"grp":"General public|(n = 268)","yr":"2050","s":"Unconditional","k":"c","x":55.9,"d":0.042},
{"grp":"General public|(n = 268)","yr":"2050","s":"Unconditional","k":"c","x":56.8,"d":0.061},
{"grp":"General public|(n = 268)","yr":"2050","s":"Unconditional","k":"c","x":57.8,"d":0.084},
{"grp":"General public|(n = 268)","yr":"2050","s":"Unconditional","k":"c","x":58.7,"d":0.107},
{"grp":"General public|(n = 268)","yr":"2050","s":"Unconditional","k":"c","x":59.7,"d":0.1317},
{"grp":"General public|(n = 268)","yr":"2050","s":"Unconditional","k":"c","x":60.5,"d":0.126},
{"grp":"General public|(n = 268)","yr":"2050","s":"Unconditional","k":"c","x":61.6,"d":0.0954},
{"grp":"General public|(n = 268)","yr":"2050","s":"Unconditional","k":"c","x":62.5,"d":0.0687},
{"grp":"General public|(n = 268)","yr":"2050","s":"Unconditional","k":"c","x":63.4,"d":0.0496},
{"grp":"General public|(n = 268)","yr":"2050","s":"Unconditional","k":"c","x":64.7,"d":0.031},
{"grp":"General public|(n = 268)","yr":"2050","s":"Unconditional","k":"c","x":66.5,"d":0.018},
{"grp":"General public|(n = 268)","yr":"2050","s":"Unconditional","k":"c","x":68.2,"d":0.011},
{"grp":"General public|(n = 268)","yr":"2050","s":"Unconditional","k":"c","x":70,"d":0.005},
{"grp":"General public|(n = 268)","yr":"2050","s":"Rapid","k":"m","x":56.4,"d":0.059},
{"grp":"General public|(n = 268)","yr":"2050","s":"Unconditional","k":"m","x":53.2,"d":0.021},
{"grp":"General public|(n = 268)","yr":"2050","s":"Unconditional","k":"m","x":59.7,"d":0.1317},
{"grp":"General public|(n = 268)","yr":"2050","s":"Rapid","k":"p","x":45,"d":0.155,"lx":47.5,"ly":0.143,"lab":"12.4%"},
{"grp":"General public|(n = 268)","yr":"2050","s":"Unconditional","k":"p","x":45,"d":0.01875,"lx":47.2,"ly":0.0377,"lab":"1.5%"},
{"grp":"General public|(n = 268)","yr":"2050","s":"Unconditional","k":"p","x":70,"d":0.0275,"lx":68.9,"ly":0.0629,"lab":"2.2%"},
{"grp":"General public|(n = 268)","yr":"2050","s":"Rapid","k":"p","x":70,"d":0.0125,"lx":64.8,"ly":0.0286,"lab":"1.0%"}
]},
"facet": {
  "row": {"field": "grp", "type": "nominal", "title": "Density",
    "sort": ["Economists|(n = 59, weighted)", "AI experts|(n = 48)", "Superforecasters|(n = 37)", "General public|(n = 268)"],
    "header": {"labelOrient": "right", "labelAngle": 90, "labelExpr": "split(datum.label, '|')", "labelFontSize": 20, "labelFontWeight": 500, "labelColor": "#1e3a2f", "labelPadding": 14, "labelLineHeight": 21,
               "titleOrient": "left", "titleFontSize": 21, "titleFontWeight": "normal", "titleColor": "#1e3a2f", "titlePadding": 10}},
  "column": {"field": "yr", "type": "nominal", "title": "Labor Force Participation Rate",
    "header": {"labelFontSize": 21, "labelFontWeight": "bold", "labelColor": "#1e3a2f", "labelPadding": 14,
               "titleOrient": "bottom", "titleFontSize": 21, "titleFontWeight": "normal", "titleColor": "#1e3a2f", "titlePadding": 8}}
},
"spacing": {"row": 15, "column": 12},
"spec": {
  "width": 512,
  "height": 204,
  "encoding": {
    "x": {"field": "x", "type": "quantitative", "title": null,
      "scale": {"domain": [43.7, 71.3], "nice": false, "zero": false},
      "axis": {"values": [45, 50, 55, 60, 65, 70], "labelExpr": "datum.value + '%'"}},
    "y": {"field": "d", "type": "quantitative", "title": null,
      "scale": {"domain": [0, 0.2327], "nice": false},
      "axis": {"values": [0, 0.05, 0.1, 0.15, 0.2], "format": ".2f"}}
  },
  "layer": [
    {"transform": [{"filter": "datum.k == 'c' && datum.s == 'Rapid'"}],
     "mark": {"type": "area", "interpolate": "monotone", "color": "#e05d5d", "fillOpacity": 0.38,
              "line": {"color": "#e05d5d", "strokeWidth": 2.5}}},
    {"transform": [{"filter": "datum.k == 'c' && datum.s == 'Unconditional'"}],
     "mark": {"type": "area", "interpolate": "monotone", "color": "#a9a9a9", "fillOpacity": 0.4,
              "line": {"color": "#a9a9a9", "strokeWidth": 2.5}}},
    {"transform": [{"filter": "datum.k == 'p'"}],
     "mark": {"type": "rule", "strokeWidth": 2.5},
     "encoding": {"y2": {"datum": 0},
       "color": {"field": "s", "type": "nominal", "title": "Scenario", "scale": {"domain": ["Rapid", "Unconditional"], "range": ["#e05d5d", "#a9a9a9"]}}}},
    {"transform": [{"filter": "datum.k == 'p'"}],
     "mark": {"type": "rule", "strokeWidth": 2.5},
     "encoding": {"x2": {"field": "lx"}, "y2": {"field": "ly"},
       "color": {"field": "s", "type": "nominal", "title": "Scenario", "scale": {"domain": ["Rapid", "Unconditional"], "range": ["#e05d5d", "#a9a9a9"]}}}},
    {"transform": [{"filter": "datum.k == 'p'"}],
     "mark": {"type": "point", "filled": true, "size": 230, "opacity": 1},
     "encoding": {
       "color": {"field": "s", "type": "nominal", "title": "Scenario", "scale": {"domain": ["Rapid", "Unconditional"], "range": ["#e05d5d", "#a9a9a9"]}}}},
    {"transform": [{"filter": "datum.k == 'm'"}],
     "mark": {"type": "point", "filled": true, "size": 95, "opacity": 1},
     "encoding": {
       "color": {"field": "s", "type": "nominal", "title": "Scenario", "scale": {"domain": ["Rapid", "Unconditional"], "range": ["#e05d5d", "#a9a9a9"]}},
       "shape": {"field": "s", "type": "nominal", "title": "Scenario", "scale": {"domain": ["Rapid", "Unconditional"], "range": ["triangle-up", "circle"]}}}},
    {"transform": [{"filter": "datum.k == 'p'"}],
     "mark": {"type": "point", "filled": true, "fill": "white", "strokeWidth": 3, "opacity": 1, "strokeOpacity": 1, "fillOpacity": 1, "size": 4900},
     "encoding": {
       "x": {"field": "lx", "type": "quantitative", "title": null},
       "y": {"field": "ly", "type": "quantitative", "title": null},
       "stroke": {"field": "s", "type": "nominal", "title": "Scenario", "scale": {"domain": ["Rapid", "Unconditional"], "range": ["#e05d5d", "#a9a9a9"]}},
       "shape": {"condition": {"test": "length(datum.lab) > 4", "value": "M-0.814,-0.414H0.814A0.143,0.143 0 0 1 0.957,-0.271V0.271A0.143,0.143 0 0 1 0.814,0.414H-0.814A0.143,0.143 0 0 1 -0.957,0.271V-0.271A0.143,0.143 0 0 1 -0.814,-0.414Z"},
                 "value": "M-0.7,-0.414H0.7A0.143,0.143 0 0 1 0.843,-0.271V0.271A0.143,0.143 0 0 1 0.7,0.414H-0.7A0.143,0.143 0 0 1 -0.843,0.271V-0.271A0.143,0.143 0 0 1 -0.7,-0.414Z"}}},
    {"transform": [{"filter": "datum.k == 'p'"}],
     "mark": {"type": "text", "fontSize": 20, "align": "center", "baseline": "middle", "dy": 1},
     "encoding": {
       "x": {"field": "lx", "type": "quantitative", "title": null},
       "y": {"field": "ly", "type": "quantitative", "title": null},
       "text": {"field": "lab"},
       "color": {"field": "s", "type": "nominal", "title": "Scenario", "scale": {"domain": ["Rapid", "Unconditional"], "range": ["#e05d5d", "#a9a9a9"]}}}}
  ]
},
"config": {
  "font": "Inter",
  "view": {"stroke": null},
  "axis": {"labelFontSize": 21, "titleFontSize": 21, "titleFontWeight": "normal", "labelColor": "#1e3a2f", "titleColor": "#1e3a2f",
           "gridColor": "#e6e6e6", "gridWidth": 1, "domainColor": "#1e3a2f", "tickColor": "#1e3a2f", "tickSize": 7, "domainWidth": 1.5, "tickWidth": 1.5},
  "axisY": {"labelPadding": 14},
  "axisX": {"labelPadding": 12},
  "legend": {"orient": "none", "legendX": 299, "legendY": 988, "direction": "horizontal", "titleOrient": "left", "titleFontSize": 24, "titleFontWeight": "bold",
             "labelFontSize": 24, "titleColor": "#1e3a2f", "labelColor": "#1e3a2f", "symbolSize": 110, "titlePadding": 18, "labelOffset": 14, "columnPadding": 22, "symbolStrokeWidth": 0}
}
}
